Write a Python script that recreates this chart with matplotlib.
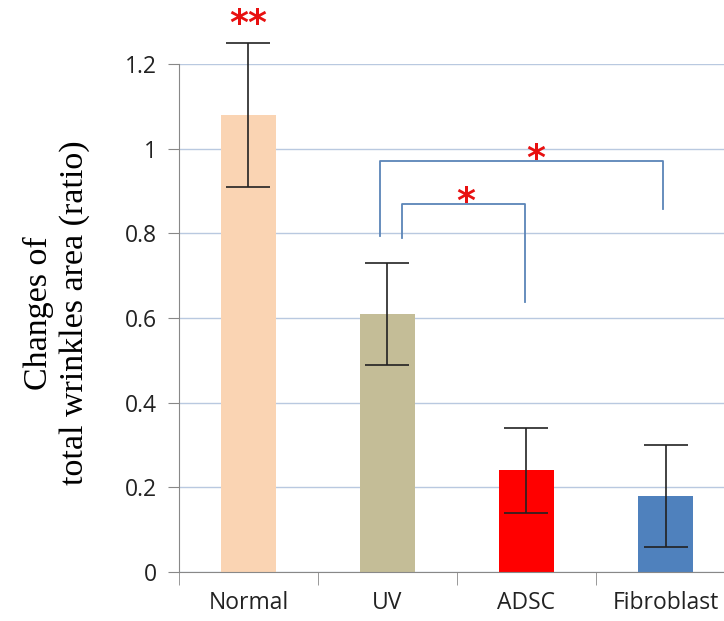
import matplotlib.pyplot as plt

groups = ["Normal", "UV", "ADSC", "Fibroblast"]
ratio = [1.08, 0.61, 0.24, 0.18]
sd = [0.17, 0.12, 0.10, 0.12]
bar_colors = ["#fad4b3", "#c4bd97", "#ff0000", "#4f81bd"]

# significance brackets: (x_left, y_left_end, x_right, y_right_end, y_top, star_x, star_y, label)
brackets = [
    (0.946, 0.794, 2.982, 0.857, 0.971, 2.07, 0.975, "*"),
    (1.104, 0.789, 1.989, 0.638, 0.869, 1.56, 0.873, "*"),
]

fig = plt.figure(figsize=(7.24, 6.21), dpi=100)
ax = fig.add_axes([0.2472, 0.0789, 0.768, 0.818])

x = range(len(groups))
ax.bar(x, ratio, width=0.4, color=bar_colors, zorder=2)
ax.errorbar(x, ratio, yerr=sd, fmt="none", ecolor="#222222", elinewidth=1.2,
            capsize=15.5, capthick=1.2, zorder=3, clip_on=False)

for xl, yl, xr, yr, yt, sx, sy, lab in brackets:
    ax.plot([xl, xl, xr, xr], [yl, yt, yt, yr], color="#5b85b8", lw=1.3,
            zorder=3, clip_on=False)
    ax.text(sx, sy, lab, color="#e81010", fontsize=26, fontweight="bold",
            ha="center", va="center", zorder=4)

ax.text(0, 1.295, "**", color="#e81010", fontsize=26, fontweight="bold",
        ha="center", va="center", clip_on=False)

ax.set_xlim(-0.5, 3.5)
ax.set_ylim(0, 1.2)
ax.set_yticks([0, 0.2, 0.4, 0.6, 0.8, 1.0, 1.2])
ax.set_yticklabels(["0", "0.2", "0.4", "0.6", "0.8", "1", "1.2"])
ax.set_xticks(x)
ax.set_xticklabels(groups)
ax.set_xticks([-0.5, 0.5, 1.5, 2.5, 3.5], minor=True)
ax.tick_params(axis="x", which="major", length=0, pad=14, labelsize=16.5, labelcolor="#222222")
ax.tick_params(axis="x", which="minor", length=9, color="#888888", direction="out")
ax.tick_params(axis="y", length=8, color="#888888", labelsize=16.5, labelcolor="#222222", pad=8)
for lab in ax.get_xticklabels() + ax.get_yticklabels():
    lab.set_family("Open Sans")

ax.grid(axis="y", color="#b9c9e0", lw=1.0, zorder=0)
ax.set_axisbelow(True)
for s in ["top", "right"]:
    ax.spines[s].set_visible(False)
ax.spines["left"].set_color("#888888")
ax.spines["bottom"].set_color("#888888")

ax.set_ylabel("Changes of\ntotal wrinkles area (ratio)", family="Liberation Serif",
              fontsize=24.5, linespacing=1.2)
ax.yaxis.set_label_coords(-0.16, 0.51)

fig.savefig("out.png", dpi=100)
